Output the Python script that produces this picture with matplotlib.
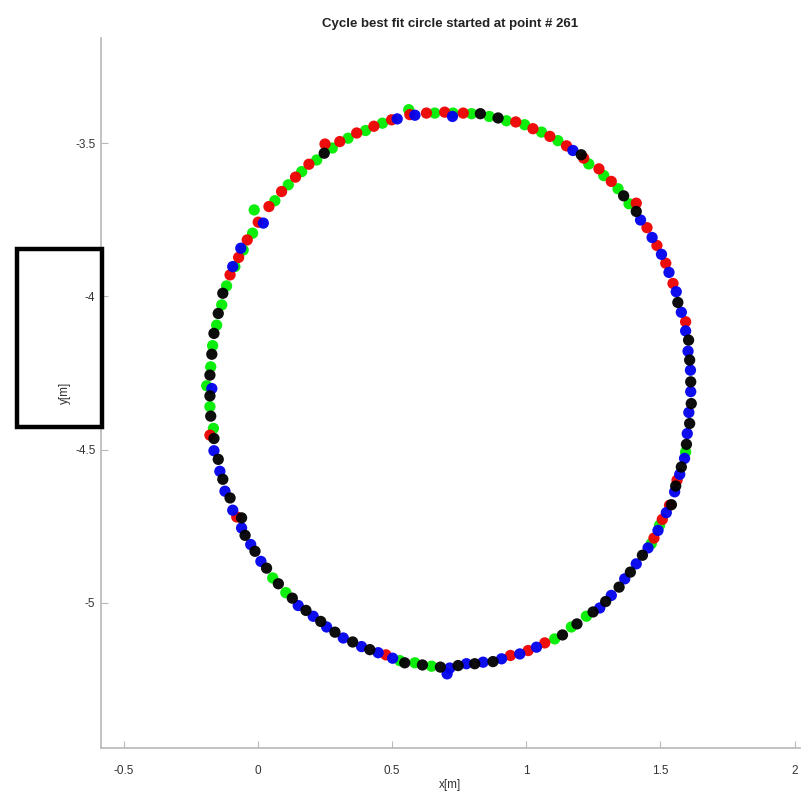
import matplotlib.pyplot as plt
from matplotlib.patches import Rectangle

plt.rcParams['font.family'] = ['Liberation Sans', 'DejaVu Sans']

# points, grouped by colour
red_x = [0.696, 0.628, 0.566, 0.498, 0.432, 0.368, 0.305, 0.250, 0.190, 0.140,
         0.088, 0.041, 0.001, -0.040, -0.072, -0.104, -0.179, -0.079,
         0.477, 0.941, 1.007, 1.069, 1.476, 1.507, 1.534, 1.562, 1.594,
         0.765, 0.961, 1.025, 1.088, 1.150, 1.214, 1.271, 1.317, 1.410,
         1.450, 1.487, 1.520, 1.547]
red_y = [-3.399, -3.402, -3.407, -3.424, -3.445, -3.467, -3.495, -3.503, -3.569, -3.611,
         -3.658, -3.707, -3.758, -3.816, -3.873, -3.930, -4.453, -4.720,
         -5.170, -5.172, -5.156, -5.131, -4.789, -4.728, -4.682, -4.600, -4.083,
         -3.402, -3.431, -3.453, -3.478, -3.509, -3.549, -3.584, -3.625, -3.696,
         -3.776, -3.834, -3.892, -3.958]

green_x = [0.659, 0.562, 0.464, 0.401, 0.336, 0.277, 0.219, 0.163, 0.113, 0.063,
           -0.014, -0.020, -0.055, -0.086, -0.117, -0.135, -0.154, -0.169, -0.176,
           -0.191, -0.179, -0.166, 0.055, 0.104, 0.529, 0.585, 0.647,
           1.106, 1.168, 1.224, 1.466, 1.497, 1.594,
           0.727, 0.796, 0.862, 0.926, 0.994, 1.057, 1.118, 1.233, 1.289,
           1.342, 1.383]
green_y = [-3.402, -3.391, -3.435, -3.459, -3.484, -3.516, -3.555, -3.593, -3.636, -3.688,
           -3.718, -3.794, -3.849, -3.903, -3.966, -4.028, -4.094, -4.161, -4.230,
           -4.292, -4.360, -4.431, -4.919, -4.967, -5.189, -5.196, -5.207,
           -5.118, -5.079, -5.044, -4.807, -4.747, -4.508,
           -3.402, -3.404, -3.413, -3.427, -3.440, -3.464, -3.492, -3.568, -3.606,
           -3.649, -3.698]

blue_x = [0.585, 0.519, 0.020, -0.064, -0.094, 0.725, 1.174, 1.426, 1.469, 1.504,
          1.532, 1.559, 1.578, 1.594, 1.603, 1.612, 1.613, 1.606, 1.600, 1.590,
          1.572, 1.553, 1.522, 1.491, 1.454, 1.410, 1.367, 1.317, 1.274,
          1.038, 0.976, 0.908, 0.839, 0.777, 0.715, 0.705, 0.502, 0.448, 0.386,
          0.318, 0.256, 0.206, 0.150, 0.011, -0.027, -0.061, -0.094, -0.123,
          -0.142, -0.164, -0.172]
blue_y = [-3.409, -3.421, -3.761, -3.843, -3.903, -3.413, -3.524, -3.751, -3.808, -3.863,
          -3.922, -3.985, -4.052, -4.113, -4.179, -4.241, -4.311, -4.379, -4.448, -4.529,
          -4.581, -4.638, -4.706, -4.764, -4.821, -4.873, -4.922, -4.976, -5.017,
          -5.145, -5.167, -5.183, -5.194, -5.199, -5.213, -5.232, -5.181, -5.163, -5.143,
          -5.115, -5.079, -5.044, -5.009, -4.865, -4.810, -4.756, -4.698, -4.636,
          -4.571, -4.504, -4.301]

black_x = [0.247, -0.131, -0.148, -0.164, -0.172, -0.179, -0.179, -0.176, -0.164,
           -0.148, -0.131, -0.104, -0.061, -0.048, -0.011, 0.032, 0.076, 0.128,
           0.179, 0.234, 0.287, 0.353, 0.417, 0.547, 0.613, 0.680, 0.746,
           0.808, 0.876, 1.135, 1.189, 1.249, 1.296, 1.346, 1.388, 1.433, 1.541,
           1.557, 1.578, 1.597, 1.609, 1.615, 1.613, 1.609, 1.605, 1.565,
           0.829, 0.895, 1.205, 1.363, 1.410]
black_y = [-3.533, -3.990, -4.056, -4.121, -4.189, -4.257, -4.325, -4.391, -4.464,
           -4.532, -4.597, -4.658, -4.723, -4.780, -4.832, -4.887, -4.938, -4.985,
           -5.025, -5.061, -5.096, -5.128, -5.153, -5.196, -5.203, -5.210, -5.205,
           -5.199, -5.192, -5.105, -5.069, -5.030, -4.996, -4.949, -4.900, -4.845, -4.680,
           -4.619, -4.557, -4.483, -4.415, -4.350, -4.279, -4.208, -4.143, -4.020,
           -3.404, -3.418, -3.538, -3.672, -3.723]

fig = plt.figure(figsize=(8.08, 8.0), dpi=100)
ax = fig.add_axes([0.125, 0.065, 0.865, 0.8875])

ms = 66
ax.scatter(green_x, green_y, s=ms, color='#00ee00', edgecolors='none', alpha=0.95)
ax.scatter(red_x, red_y, s=ms, color='#ee0000', edgecolors='none', alpha=0.95)
ax.scatter(blue_x, blue_y, s=ms, color='#0000ee', edgecolors='none', alpha=0.95)
ax.scatter(black_x, black_y, s=ms, color='black', edgecolors='none', alpha=0.95)

ax.set_xlim(-0.585, 2.02)
ax.set_ylim(-5.474, -3.157)
ax.set_xticks([-0.5, 0, 0.5, 1, 1.5, 2])
ax.set_xticklabels(['-0.5', '0', '0.5', '1', '1.5', '2'])
ax.set_yticks([-5, -4.5, -4, -3.5])
ax.set_yticklabels(['-5', '-4.5', '-4', '-3.5'])

for s in ['top', 'right']:
    ax.spines[s].set_visible(False)
for s in ['left', 'bottom']:
    ax.spines[s].set_color('#b8b8b8')
    ax.spines[s].set_linewidth(1.2)
ax.tick_params(direction='in', length=5, color='#b8b8b8', labelcolor='#333333',
               labelsize=8.5)
ax.tick_params(axis='y', pad=4)
ax.tick_params(axis='x', pad=12)

ax.set_xlabel('x[m]', fontsize=8.5, color='#333333', labelpad=2)
ax.set_ylabel('y[m]', fontsize=8.5, color='#333333', labelpad=3)
ax.set_title('Cycle best fit circle started at point # 261', fontsize=9.5,
             fontweight='bold', color='#222222', pad=8)

# black frame drawn over the y label
fig.patches.append(Rectangle((0.021, 0.466), 0.105, 0.223, transform=fig.transFigure,
                             fill=False, edgecolor='black', linewidth=3.2))

fig.savefig('out.png', dpi=100)
